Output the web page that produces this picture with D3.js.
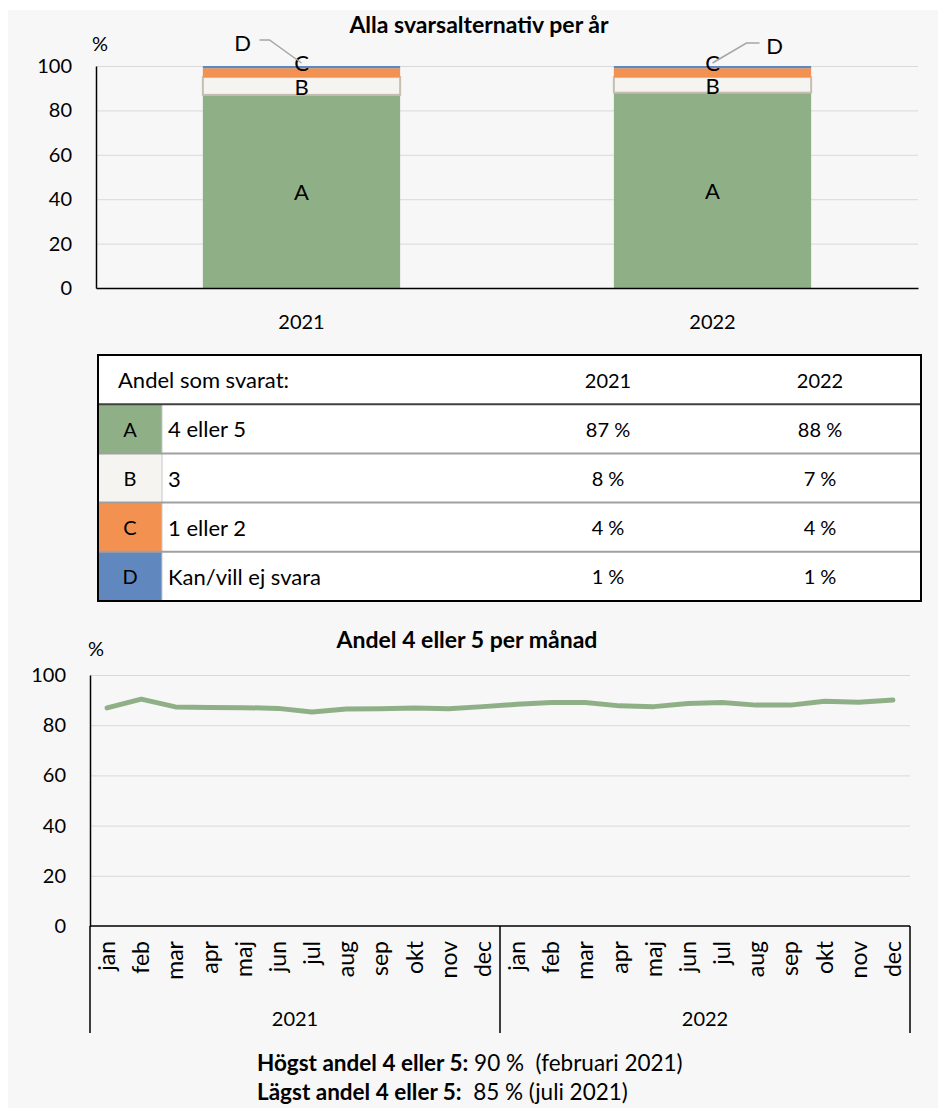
<!DOCTYPE html>
<html>
<head>
<meta charset="utf-8">
<script src="https://cdn.jsdelivr.net/npm/d3@7"></script>
<style>
    body { margin: 0; background: #ffffff; }
    svg { display: block; font-family: Lato, "Liberation Sans", sans-serif; }
</style>
</head>
<body>
<svg id="chart" width="938" height="1108"></svg>
<script>
// data
const years = ["2021", "2022"];
const segmentKeys = ["A", "B", "C", "D"];
const segmentNames = ["4 eller 5", "3", "1 eller 2", "Kan/vill ej svara"];
const share2021 = [87, 8, 4, 1];
const share2022 = [88, 7, 4, 1];
const percentTicks = [0, 20, 40, 60, 80, 100];
const months = ["jan", "feb", "mar", "apr", "maj", "jun", "jul", "aug", "sep", "okt", "nov", "dec"];
const monthly2021 = [86.9, 90.4, 87.3, 87.1, 87.0, 86.7, 85.3, 86.5, 86.6, 86.9, 86.6, 87.4];
const monthly2022 = [88.3, 89.0, 89.0, 87.7, 87.4, 88.6, 89.0, 88.0, 88.0, 89.5, 89.1, 90.0];
const segmentColors = ["#8fb087", "#f5f4f1", "#f39150", "#6088be"];

const svg = d3.select("#chart");
const NUM = 20;   // siffror
const WORD = 22;  // ord

// grå bakgrundspanel
svg.append("rect").attr("x", 8).attr("y", 10).attr("width", 930).attr("height", 1098).attr("fill", "#f7f7f7");

// ---------- stapeldiagram per år ----------
const rows = years.map((yr, i) => {
    const vals = i === 0 ? share2021 : share2022;
    const o = { year: yr };
    segmentKeys.forEach((k, j) => o[k] = vals[j]);
    return o;
});
const stacked = d3.stack().keys(segmentKeys)(rows);

const x = d3.scaleBand().domain(years).range([96, 918]).paddingInner(0.52).paddingOuter(0.26);
const y = d3.scaleLinear().domain([0, 100]).range([288, 66]);

svg.append("text").attr("x", 479).attr("y", 24).attr("text-anchor", "middle")
    .attr("dominant-baseline", "central").attr("font-weight", "bold").attr("font-size", 23)
    .text("Alla svarsalternativ per år");
svg.append("text").attr("x", 100).attr("y", 43).attr("text-anchor", "middle")
    .attr("dominant-baseline", "central").attr("font-size", NUM).text("%");

// rutnät
const grid = svg.append("g").attr("transform", "translate(96,0)")
    .call(d3.axisLeft(y).tickValues(percentTicks.slice(1)).tickSize(-822).tickFormat(""));
grid.select(".domain").remove();
grid.selectAll("line").attr("stroke", "#d9d9d9");

const bars = svg.append("g");
stacked.forEach((layer, li) => {
    bars.selectAll(null).data(layer).enter().append("rect")
        .attr("x", d => x(d.data.year))
        .attr("width", x.bandwidth())
        .attr("y", d => y(d[1]))
        .attr("height", d => y(d[0]) - y(d[1]))
        .attr("fill", segmentColors[li])
        .attr("stroke", li === 1 ? "#c6bfb1" : "none")
        .attr("stroke-width", li === 1 ? 2 : 0);
});

// etiketter i staplarna (C flyttad uppåt, D utanför med hänvisningslinje)
const labelShift = { A: 0, B: 1, C: -10 };
stacked.forEach((layer, li) => {
    const key = segmentKeys[li];
    if (key === "D") return;
    bars.selectAll(null).data(layer).enter().append("text")
        .attr("x", d => x(d.data.year) + x.bandwidth() / 2)
        .attr("y", d => y((d[0] + d[1]) / 2) + labelShift[key])
        .attr("text-anchor", "middle").attr("dominant-baseline", "central")
        .attr("font-size", 22).text(key);
});
const dLayout = [
    { lx: -59, ly: 42, pts: [[-42, 40], [-32, 40], [0, 63]] },
    { lx: 62, ly: 45, pts: [[47, 43], [34, 43], [0, 63]] }
];
years.forEach((yr, i) => {
    const cx = x(yr) + x.bandwidth() / 2;
    const L = dLayout[i];
    bars.append("path")
        .attr("d", d3.line()(L.pts.map(p => [cx + p[0], p[1]])))
        .attr("fill", "none").attr("stroke", "#a6a6a6").attr("stroke-width", 1.5);
    bars.append("text").attr("x", cx + L.lx).attr("y", L.ly)
        .attr("text-anchor", "middle").attr("dominant-baseline", "central")
        .attr("font-size", 22).text("D");
});

const yAxis = svg.append("g").attr("transform", "translate(96,0)")
    .call(d3.axisLeft(y).tickValues(percentTicks).tickSize(0).tickSizeOuter(0).tickPadding(24));
yAxis.select(".domain").attr("stroke", "#000").attr("stroke-width", 1.5);
yAxis.selectAll("text").attr("font-size", NUM).attr("font-family", "Lato").attr("fill", "#000");

const xAxis = svg.append("g").attr("transform", "translate(0,288)")
    .call(d3.axisBottom(x).tickSize(0).tickSizeOuter(0).tickPadding(27));
xAxis.select(".domain").attr("stroke", "#000").attr("stroke-width", 1.5);
xAxis.selectAll("text").attr("font-size", NUM).attr("font-family", "Lato").attr("fill", "#000");

// ---------- tabell ----------
const tbl = { x0: 98, x1: 921, top: 355, rowH: 49.2, swatchW: 64, col2021: 608, col2022: 820 };
const tg = svg.append("g");
tg.append("rect").attr("x", tbl.x0).attr("y", tbl.top).attr("width", tbl.x1 - tbl.x0)
    .attr("height", tbl.rowH * 5).attr("fill", "#ffffff");
tg.append("text").attr("x", 118).attr("y", tbl.top + tbl.rowH / 2).attr("dominant-baseline", "central")
    .attr("font-size", WORD).text("Andel som svarat:");
years.forEach((yr, i) => {
    tg.append("text").attr("x", i === 0 ? tbl.col2021 : tbl.col2022).attr("y", tbl.top + tbl.rowH / 2)
        .attr("text-anchor", "middle").attr("dominant-baseline", "central").attr("font-size", NUM).text(yr);
});
segmentKeys.forEach((k, i) => {
    const ry = tbl.top + tbl.rowH * (i + 1);
    tg.append("rect").attr("x", tbl.x0).attr("y", ry).attr("width", tbl.swatchW).attr("height", tbl.rowH)
        .attr("fill", segmentColors[i]);
    tg.append("line").attr("x1", tbl.x0 + tbl.swatchW).attr("x2", tbl.x0 + tbl.swatchW)
        .attr("y1", ry).attr("y2", ry + tbl.rowH).attr("stroke", "#c8c8c8").attr("stroke-width", 1);
    tg.append("text").attr("x", tbl.x0 + tbl.swatchW / 2).attr("y", ry + tbl.rowH / 2)
        .attr("text-anchor", "middle").attr("dominant-baseline", "central").attr("font-size", NUM).text(k);
    tg.append("text").attr("x", tbl.x0 + tbl.swatchW + 6).attr("y", ry + tbl.rowH / 2)
        .attr("dominant-baseline", "central").attr("font-size", WORD).text(segmentNames[i]);
    tg.append("text").attr("x", tbl.col2021).attr("y", ry + tbl.rowH / 2)
        .attr("text-anchor", "middle").attr("dominant-baseline", "central").attr("font-size", NUM)
        .text(share2021[i] + " %");
    tg.append("text").attr("x", tbl.col2022).attr("y", ry + tbl.rowH / 2)
        .attr("text-anchor", "middle").attr("dominant-baseline", "central").attr("font-size", NUM)
        .text(share2022[i] + " %");
    tg.append("line").attr("x1", tbl.x0).attr("x2", tbl.x1).attr("y1", ry).attr("y2", ry)
        .attr("stroke", i === 0 ? "#404040" : "#a0a0a0").attr("stroke-width", 2);
});
tg.append("rect").attr("x", tbl.x0).attr("y", tbl.top).attr("width", tbl.x1 - tbl.x0)
    .attr("height", tbl.rowH * 5).attr("fill", "none").attr("stroke", "#000").attr("stroke-width", 2);

// ---------- linjediagram per månad ----------
const monthLabels = years.flatMap(yr => months.map(m => ({ year: yr, month: m })));
const monthly = monthly2021.concat(monthly2022);
const xl = d3.scaleBand().domain(d3.range(monthLabels.length)).range([90, 910]);
const yl = d3.scaleLinear().domain([0, 100]).range([926, 675]);
const cxl = i => xl(i) + xl.bandwidth() / 2;

svg.append("text").attr("x", 467).attr("y", 639).attr("text-anchor", "middle")
    .attr("dominant-baseline", "central").attr("font-weight", "bold").attr("font-size", 23)
    .text("Andel 4 eller 5 per månad");
svg.append("text").attr("x", 96).attr("y", 648).attr("text-anchor", "middle")
    .attr("dominant-baseline", "central").attr("font-size", NUM).text("%");

const grid2 = svg.append("g").attr("transform", "translate(90,0)")
    .call(d3.axisLeft(yl).tickValues(percentTicks.slice(1)).tickSize(-820).tickFormat(""));
grid2.select(".domain").remove();
grid2.selectAll("line").attr("stroke", "#d9d9d9");

svg.append("path").datum(monthly)
    .attr("d", d3.line().x((d, i) => cxl(i)).y(d => yl(d)))
    .attr("fill", "none").attr("stroke", "#8fb087").attr("stroke-width", 5)
    .attr("stroke-linejoin", "round").attr("stroke-linecap", "round");

const yAxis2 = svg.append("g").attr("transform", "translate(90,0)")
    .call(d3.axisLeft(yl).tickValues(percentTicks).tickSize(0).tickSizeOuter(0).tickPadding(24));
yAxis2.select(".domain").attr("stroke", "#000").attr("stroke-width", 1.5);
yAxis2.selectAll("text").attr("font-size", NUM).attr("font-family", "Lato").attr("fill", "#000");

// x-axel med månader och år
svg.append("line").attr("x1", 90).attr("x2", 910).attr("y1", 926).attr("y2", 926)
    .attr("stroke", "#000").attr("stroke-width", 1.5);
svg.append("g").selectAll("text").data(monthLabels).enter().append("text")
    .attr("transform", (d, i) => `translate(${cxl(i)},941) rotate(-90)`)
    .attr("text-anchor", "end").attr("dy", "0.35em").attr("font-size", 23)
    .text(d => d.month);
const yearEdges = [0, 12, 24];
svg.append("g").selectAll("line").data(yearEdges).enter().append("line")
    .attr("x1", d => d < 24 ? xl(d) : xl(23) + xl.bandwidth())
    .attr("x2", d => d < 24 ? xl(d) : xl(23) + xl.bandwidth())
    .attr("y1", 926).attr("y2", 1033).attr("stroke", "#000").attr("stroke-width", 1.5);
years.forEach((yr, i) => {
    const a = xl(i * 12), b = xl(i * 12 + 11) + xl.bandwidth();
    svg.append("text").attr("x", (a + b) / 2).attr("y", 1018).attr("text-anchor", "middle")
        .attr("dominant-baseline", "central").attr("font-size", NUM).text(yr);
});

// sammanfattning
const maxI = d3.maxIndex(monthly), minI = d3.minIndex(monthly);
const fullMonths = { feb: "februari", jul: "juli" };
const foot = svg.append("g").attr("font-size", 22.5);
const t1 = foot.append("text").attr("x", 257).attr("y", 1071);
t1.append("tspan").attr("font-weight", "bold").text("Högst andel 4 eller 5:");
t1.append("tspan").attr("xml:space", "preserve")
    .text(` ${Math.round(monthly[maxI])} %\u00a0 (${fullMonths[monthLabels[maxI].month]} ${monthLabels[maxI].year})`);
const t2 = foot.append("text").attr("x", 257).attr("y", 1100);
t2.append("tspan").attr("font-weight", "bold").text("Lägst andel 4 eller 5:");
t2.append("tspan").text(`\u00a0 ${Math.round(monthly[minI])} % (${fullMonths[monthLabels[minI].month]} ${monthLabels[minI].year})`);
</script>
</body>
</html>
